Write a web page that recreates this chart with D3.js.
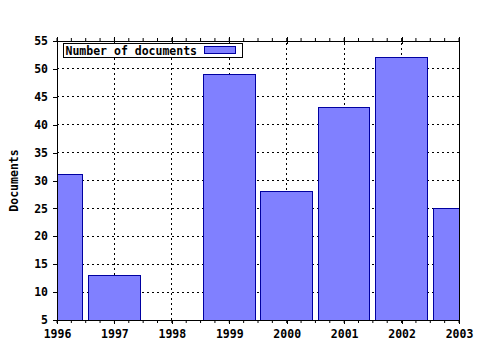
<!DOCTYPE html>
<html>
<head>
<meta charset="utf-8">
<script src="https://cdn.jsdelivr.net/npm/d3@7"></script>
<style>
  body { margin: 0; background: #fff; }
  text { font-family: "DejaVu Sans Mono", monospace; font-weight: bold; font-size: 11.5px; }
</style>
</head>
<body>
<svg id="chart" width="480" height="350"></svg>
<script>
const years = [1996, 1997, 1998, 1999, 2000, 2001, 2002, 2003];
const documents = [31, 13, 0, 49, 28, 43, 52, 25];
const yTicks = [5, 10, 15, 20, 25, 30, 35, 40, 45, 50, 55];
const seriesName = "Number of documents";

const svg = d3.select("#chart");
const margin = { left: 57, right: 21, top: 41, bottom: 30 };
const width = 480, height = 350;
const x0 = margin.left, x1 = width - margin.right;
const y0 = height - margin.bottom, y1 = margin.top;

const x = d3.scaleLinear().domain([1996, 2003]).range([x0, x1]);
const y = d3.scaleLinear().domain([5, 55]).range([y0, y1]);
const barW = (x(1997) - x(1996)) * 0.9;

svg.append("defs").append("clipPath").attr("id", "plot")
    .append("rect").attr("x", x0).attr("y", y1).attr("width", x1 - x0).attr("height", y0 - y1);

// grid
const grid = svg.append("g").attr("stroke", "#000").attr("stroke-width", 1)
    .attr("stroke-dasharray", "2,3").attr("shape-rendering", "crispEdges");
grid.selectAll("line.h").data(yTicks).join("line")
    .attr("x1", x0).attr("x2", x1).attr("y1", d => y(d)).attr("y2", d => y(d));
grid.selectAll("line.v").data(years).join("line")
    .attr("x1", d => x(d)).attr("x2", d => x(d)).attr("y1", y0).attr("y2", y1);

// bars
svg.append("g").attr("clip-path", "url(#plot)")
    .selectAll("rect").data(years).join("rect")
    .attr("x", d => x(d) - barW / 2)
    .attr("width", barW)
    .attr("y", (d, i) => y(documents[i]))
    .attr("height", (d, i) => Math.max(0, y(0) - y(documents[i])))
    .attr("fill", "#8080ff")
    .attr("stroke", "#0000a0")
    .attr("stroke-width", 1)
    .attr("shape-rendering", "crispEdges");

// axes
const minor = d3.range(1996, 2003.01, 0.25);
const bottomAxis = svg.append("g").attr("transform", `translate(0,${y0})`)
    .call(d3.axisBottom(x).tickValues(years).tickFormat(d3.format("d")).tickSizeInner(4).tickSizeOuter(0).tickPadding(6));
bottomAxis.selectAll(".minor").data(minor).join("line").attr("class", "minor")
    .attr("x1", d => x(d)).attr("x2", d => x(d)).attr("y1", 0).attr("y2", 3).attr("stroke", "#000");

const topAxis = svg.append("g").attr("transform", `translate(0,${y1})`)
    .call(d3.axisTop(x).tickValues(years).tickFormat("").tickSizeInner(4).tickSizeOuter(0));
topAxis.selectAll(".tick line").attr("y2", -4).attr("y1", 3);
topAxis.selectAll(".minor").data(minor).join("line").attr("class", "minor")
    .attr("x1", d => x(d)).attr("x2", d => x(d)).attr("y1", 0).attr("y2", -3).attr("stroke", "#000");

svg.append("g").attr("transform", `translate(${x0},0)`)
    .call(d3.axisLeft(y).tickValues(yTicks).tickSizeInner(4).tickSizeOuter(0).tickPadding(5));
svg.append("g").attr("transform", `translate(${x1},0)`)
    .call(d3.axisRight(y).tickValues(yTicks).tickFormat("").tickSize(0));

svg.selectAll(".domain").attr("stroke", "#000").attr("shape-rendering", "crispEdges");
svg.selectAll(".tick line").attr("shape-rendering", "crispEdges");
svg.selectAll(".tick text").attr("fill", "#000")
    .style("font-family", "DejaVu Sans Mono, monospace").style("font-weight", "bold").style("font-size", "11.5px");

// y label
svg.append("text")
    .attr("transform", `translate(18,${(y0 + y1) / 2}) rotate(-90)`)
    .attr("text-anchor", "middle")
    .text("Documents");

// legend
const lg = svg.append("g").attr("transform", `translate(63.5,43.5)`);
lg.append("rect").attr("width", 179).attr("height", 14).attr("fill", "#fff").attr("stroke", "#000");
lg.append("text").attr("x", 2).attr("y", 11).text(seriesName);
lg.append("rect").attr("x", 141).attr("y", 3).attr("width", 31).attr("height", 7)
    .attr("fill", "#8080ff").attr("stroke", "#0000a0");
</script>
</body>
</html>
